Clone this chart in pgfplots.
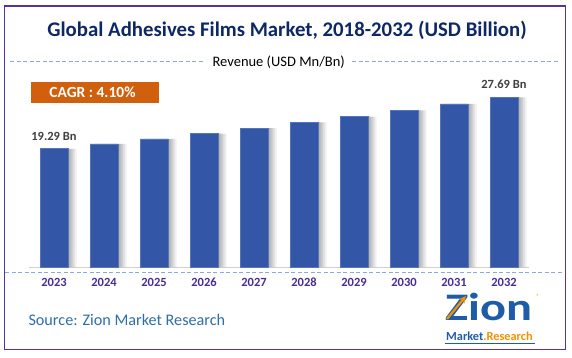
\documentclass[border=0pt]{standalone}
\usepackage{pgfplots}
\pgfplotsset{compat=1.18}
\usepackage{fontspec}
\setmainfont{Carlito}
\definecolor{barblue}{RGB}{51,87,166}
\definecolor{baredge}{RGB}{84,116,188}
\definecolor{titlenavy}{RGB}{14,40,102}
\definecolor{framepurple}{RGB}{88,48,160}
\definecolor{dashblue}{RGB}{140,168,220}
\definecolor{yearpurple}{RGB}{72,46,145}
\definecolor{cagrorange}{RGB}{208,96,14}
\definecolor{sourceblue}{RGB}{47,110,170}
\definecolor{logoblue}{RGB}{30,92,168}
\definecolor{logoorange}{RGB}{243,146,0}
\definecolor{labelgray}{RGB}{64,64,64}
\begin{document}
\begin{tikzpicture}
\fill[white] (0,0) rectangle (572pt,357pt);
\useasboundingbox (0,0) rectangle (572pt,357pt);
\begin{axis}[
  at={(29pt,90pt)}, anchor=south west,
  scale only axis, width=500pt, height=183.9pt,
  xmin=-0.5, xmax=9.5, ymin=0, ymax=30,
  ybar, bar width=28pt,
  axis y line=none, axis x line*=bottom,
  x axis line style={draw=black!18, line width=1pt},
  xtick=data, xticklabels={2023,2024,2025,2026,2027,2028,2029,2030,2031,2032},
  major tick length=0pt, ytick=\empty,
  xticklabel style={font=\fontsize{12.5}{14}\selectfont\bfseries, text=yearpurple, anchor=center, yshift=-15.3pt},
  clip=false,
]
\addplot[draw=none, fill=black, fill opacity=0.09, bar shift=2.5pt, forget plot] coordinates {(0,19.29) (1,20.08) (2,20.90) (3,21.76) (4,22.65) (5,23.58) (6,24.55) (7,25.55) (8,26.60) (9,27.69)};
\addplot[draw=none, fill=black, fill opacity=0.09, bar shift=4.5pt, forget plot] coordinates {(0,19.29) (1,20.08) (2,20.90) (3,21.76) (4,22.65) (5,23.58) (6,24.55) (7,25.55) (8,26.60) (9,27.69)};
\addplot[draw=none, fill=black, fill opacity=0.08, bar shift=6.5pt, forget plot] coordinates {(0,19.29) (1,20.08) (2,20.90) (3,21.76) (4,22.65) (5,23.58) (6,24.55) (7,25.55) (8,26.60) (9,27.69)};
\addplot[draw=none, fill=black, fill opacity=0.06, bar shift=8.5pt, forget plot] coordinates {(0,19.29) (1,20.08) (2,20.90) (3,21.76) (4,22.65) (5,23.58) (6,24.55) (7,25.55) (8,26.60) (9,27.69)};
\addplot[fill=barblue, draw=baredge, line width=0.6pt, bar shift=0pt,
  nodes near coords, point meta=explicit symbolic,
  every node near coord/.append style={font=\fontsize{12.5}{14}\selectfont\bfseries, text=labelgray, anchor=center, yshift=12.5pt}]
  coordinates {(0,19.29) [19.29 Bn] (1,20.08) [] (2,20.90) [] (3,21.76) [] (4,22.65) [] (5,23.58) [] (6,24.55) [] (7,25.55) [] (8,26.60) [] (9,27.69) [27.69 Bn]};
\end{axis}
% frame
\draw[framepurple, line width=1.5pt] (4.5pt,7.7pt) rectangle (565.7pt,351pt);
% title
\node[text=titlenavy, font=\fontsize{20.8}{24}\selectfont\bfseries] at (287pt,327pt) {Global Adhesives Films Market, 2018-2032 (USD Billion)};
% subtitle with dashes
\draw[dashblue, line width=0.8pt, dash pattern=on 4pt off 2.5pt] (10pt,295.3pt) -- (203pt,295.3pt);
\draw[dashblue, line width=0.8pt, dash pattern=on 4pt off 2.5pt] (352pt,295.3pt) -- (560pt,295.3pt);
\node[font=\fontsize{14.5}{16}\selectfont] at (278.7pt,295pt) {Revenue (USD Mn/Bn)};
% bottom dashed line
\draw[dashblue, line width=0.8pt, dash pattern=on 4pt off 2.5pt] (5pt,84.3pt) -- (561.7pt,84.3pt);
% CAGR box
\fill[cagrorange] (31pt,254.3pt) rectangle (159pt,275.3pt);
\node[text=white, font=\fontsize{15.5}{17}\selectfont\bfseries] at (92.5pt,264.8pt) {CAGR : 4.10\%};
% source
\node[anchor=west, inner sep=0pt, text=sourceblue, font=\fontsize{16.2}{18}\selectfont] at (28.3pt,37pt) {Source: Zion Market Research};
% logo
\node[anchor=base west, inner sep=0pt, text depth=0pt, text=logoblue, font=\fontsize{39}{39}\selectfont\bfseries, xscale=1.24, transform shape] at (445pt,36.5pt) {Zion};
\draw[logoorange, line width=2.2pt, -stealth] (447pt,38pt) -- (466pt,61pt);
\node[text=logoorange, font=\fontsize{6}{6}\selectfont, inner sep=0pt] at (538pt,61pt) {®};
\node[anchor=base west, inner sep=0pt, font=\fontsize{12.3}{13}\selectfont\bfseries] at (446pt,16.5pt) {\textcolor{logoblue}{Market}\textcolor{logoorange}{.Research}};
\draw[logoblue, line width=0.5pt] (445pt,14pt) -- (535pt,14pt);
\end{tikzpicture}
\end{document}
